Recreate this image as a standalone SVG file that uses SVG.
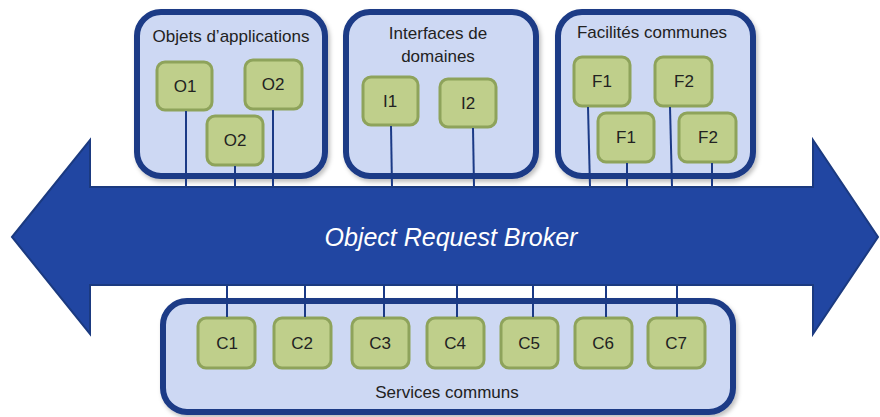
<svg xmlns="http://www.w3.org/2000/svg" width="880" height="417" viewBox="0 0 880 417">
<style>
.grp{fill:#cdd8f3;stroke:#1b3a86;stroke-width:6}
.node{fill:#bfcf8b;stroke:#8ea35b;stroke-width:3}
.lbl{font-family:"Liberation Sans",Arial,sans-serif;font-size:17px;fill:#222;text-anchor:middle}
.nl{font-family:"Liberation Sans",Arial,sans-serif;font-size:17px;fill:#222;text-anchor:middle}
.conn{stroke:#1b3a86;stroke-width:2;fill:none}
</style>
<defs>
<filter id="sh" x="-10%" y="-10%" width="120%" height="130%">
<feDropShadow dx="2" dy="3" stdDeviation="2" flood-color="#000" flood-opacity="0.25"/>
</filter>
</defs>
<g id="broker">
<polygon points="12,237 90,140 90,187 813,187 813,140 878,237 813,334 813,285 90,285 90,334" fill="#2146a2" stroke="#1b3a80" stroke-width="2"/>
<text x="451" y="246" font-family="Liberation Sans,Arial,sans-serif" font-style="italic" font-size="25" fill="#fff" text-anchor="middle">Object Request Broker</text>
</g>
<g id="objets">
<rect class="grp" x="137" y="12" width="188" height="164" rx="24" filter="url(#sh)"/>
<text class="lbl" x="231" y="42">Objets d’applications</text>
</g>
<g id="o1"><rect class="node" x="157" y="62" width="55" height="48" rx="8"/><text class="nl" x="185" y="92">O1</text></g>
<g id="o2a"><rect class="node" x="245" y="60" width="57" height="49" rx="8"/><text class="nl" x="273" y="90">O2</text></g>
<g id="o2b"><rect class="node" x="207" y="116" width="56" height="49" rx="8"/><text class="nl" x="235" y="146">O2</text></g>
<g id="interfaces">
<rect class="grp" x="346" y="12" width="190" height="164" rx="24" filter="url(#sh)"/>
<text class="lbl" x="438" y="39">Interfaces de</text>
<text class="lbl" x="438" y="62">domaines</text>
</g>
<g id="i1"><rect class="node" x="363" y="77" width="55" height="48" rx="8"/><text class="nl" x="390" y="107">I1</text></g>
<g id="i2"><rect class="node" x="440" y="79" width="56" height="48" rx="8"/><text class="nl" x="468" y="109">I2</text></g>
<g id="facilites">
<rect class="grp" x="558" y="12" width="195" height="164" rx="24" filter="url(#sh)"/>
<text class="lbl" x="652" y="38">Facilités communes</text>
</g>
<g id="f1a"><rect class="node" x="574" y="57" width="56" height="49" rx="8"/><text class="nl" x="602" y="87">F1</text></g>
<g id="f2a"><rect class="node" x="655" y="57" width="57" height="49" rx="8"/><text class="nl" x="684" y="87">F2</text></g>
<g id="f1b"><rect class="node" x="598" y="113" width="56" height="49" rx="8"/><text class="nl" x="626" y="143">F1</text></g>
<g id="f2b"><rect class="node" x="679" y="113" width="57" height="49" rx="8"/><text class="nl" x="708" y="143">F2</text></g>
<g id="services">
<rect class="grp" x="163" y="301" width="570" height="111" rx="24" filter="url(#sh)"/>
<text class="lbl" x="447" y="398">Services communs</text>
</g>
<g id="c1"><rect class="node" x="198" y="318" width="57" height="50" rx="8"/><text class="nl" x="227" y="349">C1</text></g>
<g id="c2"><rect class="node" x="274" y="318" width="57" height="50" rx="8"/><text class="nl" x="302" y="349">C2</text></g>
<g id="c3"><rect class="node" x="352" y="318" width="57" height="50" rx="8"/><text class="nl" x="380" y="349">C3</text></g>
<g id="c4"><rect class="node" x="427" y="318" width="57" height="50" rx="8"/><text class="nl" x="455" y="349">C4</text></g>
<g id="c5"><rect class="node" x="501" y="318" width="57" height="50" rx="8"/><text class="nl" x="529" y="349">C5</text></g>
<g id="c6"><rect class="node" x="575" y="318" width="57" height="50" rx="8"/><text class="nl" x="603" y="349">C6</text></g>
<g id="c7"><rect class="node" x="648" y="318" width="57" height="50" rx="8"/><text class="nl" x="676" y="349">C7</text></g>
<g id="connectors">
<line class="conn" x1="186" y1="111" x2="186" y2="187"/>
<line class="conn" x1="235" y1="166" x2="235" y2="187"/>
<line class="conn" x1="273" y1="110" x2="273" y2="187"/>
<line class="conn" x1="391" y1="126" x2="392" y2="187"/>
<line class="conn" x1="473" y1="128" x2="474" y2="187"/>
<line class="conn" x1="588" y1="107" x2="590" y2="187"/>
<line class="conn" x1="627" y1="163" x2="627" y2="187"/>
<line class="conn" x1="670" y1="107" x2="672" y2="187"/>
<line class="conn" x1="712" y1="163" x2="712" y2="187"/>
<line class="conn" x1="227" y1="285" x2="227" y2="317"/>
<line class="conn" x1="305" y1="285" x2="305" y2="317"/>
<line class="conn" x1="384" y1="285" x2="384" y2="317"/>
<line class="conn" x1="457" y1="285" x2="457" y2="317"/>
<line class="conn" x1="533" y1="285" x2="533" y2="317"/>
<line class="conn" x1="606" y1="285" x2="606" y2="317"/>
<line class="conn" x1="677" y1="285" x2="677" y2="317"/>
</g>
</svg>
